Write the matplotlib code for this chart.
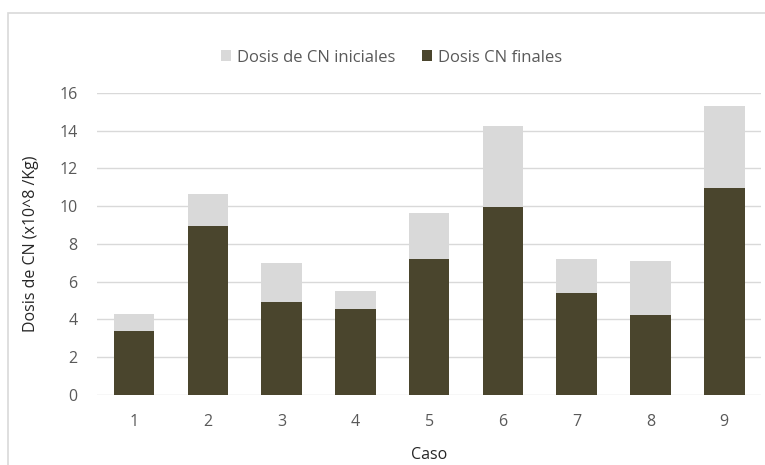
import matplotlib.pyplot as plt
import numpy as np
from matplotlib.patches import Rectangle

# dosis de CN por caso: iniciales (fondo) y finales (delante)
casos = ['1', '2', '3', '4', '5', '6', '7', '8', '9']
dosis_iniciales = [4.3, 10.65, 7.0, 5.5, 9.65, 14.25, 7.2, 7.1, 15.3]
dosis_finales = [3.4, 8.95, 4.9, 4.55, 7.2, 9.95, 5.4, 4.25, 10.95]

plt.rcParams['font.family'] = ['Open Sans', 'DejaVu Sans']
gris_txt = '#595959'
fs = 11.5

fig = plt.figure(figsize=(7.65, 4.65), dpi=100)
ax = fig.add_axes([0.127, 0.151, 0.868, 0.649])

# marco del grafico
fig.patches.append(Rectangle((8 / 765, -0.05), 1.0, 1 - 13 / 465 + 0.05,
                             transform=fig.transFigure, fill=False,
                             edgecolor='#d9d9d9', linewidth=1.2))

x = np.arange(1, len(casos) + 1)
ax.bar(x, dosis_iniciales, width=0.55, color='#d9d9d9', zorder=2,
       label='Dosis de CN iniciales')
ax.bar(x, dosis_finales, width=0.55, color='#4a452d', zorder=3,
       label='Dosis CN finales')

ax.set_xlim(0.5, 9.5)
ax.set_ylim(0, 16)
ax.set_yticks(np.arange(0, 17, 2))
ax.set_xticks(x)
ax.set_xticklabels(casos)
ax.yaxis.grid(True, color='#d9d9d9', linewidth=1)
ax.set_axisbelow(True)
for s in ax.spines.values():
    s.set_visible(False)
ax.tick_params(length=0, colors=gris_txt, labelsize=fs)
ax.tick_params(axis='x', pad=14)
ax.tick_params(axis='y', pad=14)

ax.set_xlabel('Caso', color='#262626', fontsize=fs, labelpad=12)
ax.set_ylabel('Dosis de CN (x10^8 /Kg)', color='#262626', fontsize=fs,
              labelpad=15)

fig.legend(loc='center', bbox_to_anchor=(0.512, 0.876), ncol=2, frameon=False,
           fontsize=12, labelcolor=gris_txt, handlelength=0.6,
           handleheight=0.6, handletextpad=0.35, columnspacing=1.6)

fig.savefig('out.png', dpi=100)
